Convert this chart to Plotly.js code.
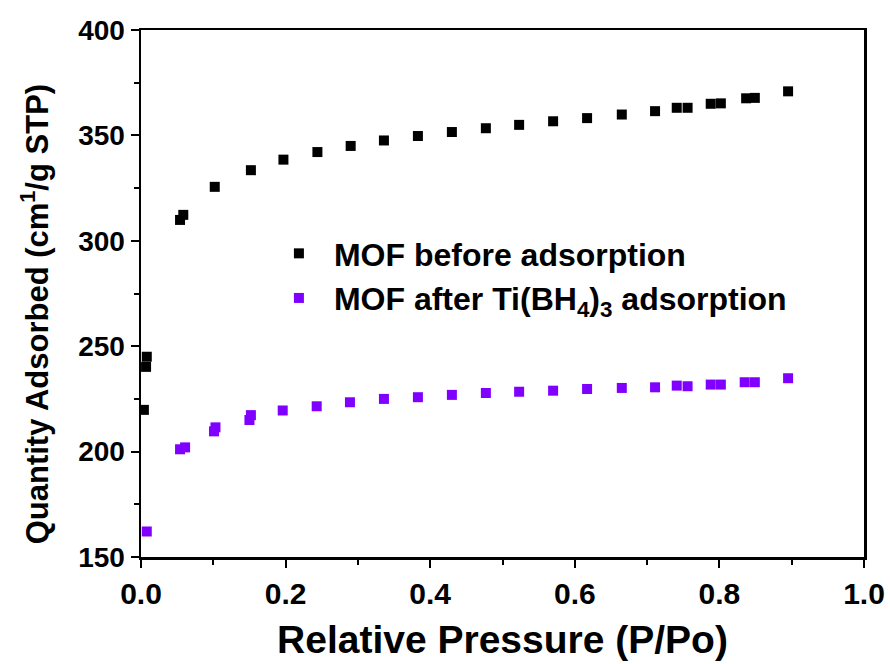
<!DOCTYPE html>
<html>
<head>
<meta charset="utf-8">
<script src="https://cdn.plot.ly/plotly-3.0.1.min.js"></script>
<style>html,body{margin:0;padding:0;background:#fff;}#chart{width:890px;height:664px;}</style>
</head>
<body>
<div id="chart"></div>
<script>
const seriesNames = ["MOF before adsorption", "MOF after Ti(BH<sub>4</sub>)<sub>3</sub> adsorption"];
const beforeX = [0.004, 0.007, 0.008, 0.054, 0.0585, 0.102, 0.152, 0.197, 0.244, 0.290, 0.336, 0.383, 0.430, 0.477, 0.523, 0.570, 0.617, 0.665, 0.711, 0.741, 0.756, 0.788, 0.802, 0.837, 0.849, 0.895];
const beforeY = [219.8, 240.2, 245.0, 309.9, 312.3, 325.6, 333.5, 338.5, 342.1, 345.0, 347.6, 349.7, 351.6, 353.4, 355.0, 356.7, 358.2, 359.9, 361.5, 363.1, 363.1, 365.0, 365.2, 367.6, 367.8, 370.9];
const afterX = [0.008, 0.054, 0.061, 0.101, 0.103, 0.150, 0.152, 0.196, 0.243, 0.289, 0.336, 0.383, 0.430, 0.477, 0.523, 0.570, 0.617, 0.665, 0.711, 0.741, 0.756, 0.788, 0.802, 0.835, 0.849, 0.895];
const afterY = [162.1, 201.1, 202.0, 209.6, 211.5, 215.0, 217.3, 219.5, 221.5, 223.4, 225.0, 225.8, 226.9, 227.8, 228.4, 228.9, 229.7, 230.2, 230.5, 231.3, 231.0, 231.8, 231.8, 232.9, 232.9, 234.8];
const xTitle = "Relative Pressure (P/Po)";
const yTitle = "Quantity Adsorbed (cm<sup>1</sup>/g STP)";

const FONT = "Liberation Sans, Arial, Helvetica, sans-serif";

const traces = [
  {x: beforeX, y: beforeY, name: seriesNames[0], mode: "markers", type: "scatter",
   marker: {symbol: "square", size: 10, color: "#000000"}},
  {x: afterX, y: afterY, name: seriesNames[1], mode: "markers", type: "scatter",
   marker: {symbol: "square", size: 10, color: "#8000ff"}}
];

const axisCommon = {
  showgrid: false, zeroline: false, linecolor: "#000", linewidth: 2.5,
  tickcolor: "#000", tickwidth: 2, ticklen: 8
};

const layout = {
  width: 890, height: 664,
  margin: {l: 141, r: 26, t: 30, b: 107},
  paper_bgcolor: "#fff", plot_bgcolor: "#fff",
  font: {family: FONT, color: "#000", weight: "bold"},
  showlegend: true,
  legend: {x: 0.17, y: 0.628, xanchor: "left", yanchor: "top", bgcolor: "rgba(0,0,0,0)",
           font: {family: FONT, size: 32, color: "#000", weight: "bold"}, itemwidth: 60, tracegroupgap: 0},
  xaxis: Object.assign({}, axisCommon, {
    range: [0, 1], dtick: 0.2, tick0: 0, tickformat: ".1f", ticks: "outside", mirror: true, showline: true,
    tickfont: {family: FONT, size: 30, color: "#000", weight: "bold"},
    minor: {dtick: 0.1, ticks: "outside", ticklen: 5, tickwidth: 2, tickcolor: "#000"},
    title: {text: xTitle, font: {family: FONT, size: 39, color: "#000", weight: "bold"}, standoff: 17}
  }),
  yaxis: Object.assign({}, axisCommon, {
    range: [150, 400], dtick: 50, tick0: 150, ticks: "outside", mirror: true, showline: true,
    tickfont: {family: FONT, size: 28, color: "#000", weight: "bold"},
    minor: {dtick: 25, ticks: "outside", ticklen: 5, tickwidth: 2, tickcolor: "#000"}
  }),
  xaxis2: {overlaying: "x", matches: "x", side: "top", anchor: "y", range: [0, 1], dtick: 0.2, tick0: 0,
    ticks: "inside", ticklen: 8, tickwidth: 2, tickcolor: "#000", showticklabels: false, showline: false,
    showgrid: false, zeroline: false,
    minor: {dtick: 0.1, ticks: "inside", ticklen: 5, tickwidth: 2, tickcolor: "#000"}},
  yaxis2: {overlaying: "y", matches: "y", side: "right", anchor: "x", range: [150, 400], dtick: 50, tick0: 150,
    ticks: "inside", ticklen: 8, tickwidth: 2, tickcolor: "#000", showticklabels: false, showline: false,
    showgrid: false, zeroline: false,
    minor: {dtick: 25, ticks: "inside", ticklen: 5, tickwidth: 2, tickcolor: "#000"}},
  annotations: [
    {text: yTitle, xref: "paper", yref: "paper", x: -0.147, y: 0.46, xanchor: "center", yanchor: "middle",
     textangle: -90, showarrow: false, font: {family: FONT, size: 31, color: "#000", weight: "bold"}}
  ]
};

Plotly.newPlot("chart", traces, layout, {displayModeBar: false, staticPlot: true});
</script>
</body>
</html>
